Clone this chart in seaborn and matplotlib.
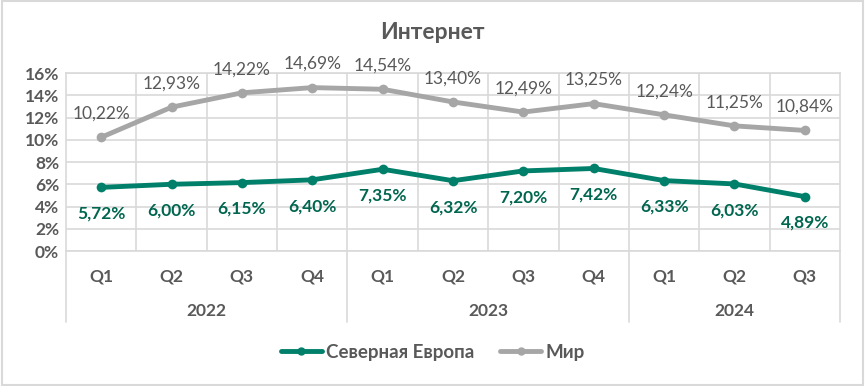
import pandas as pd
import matplotlib.pyplot as plt
import seaborn as sns
from matplotlib.lines import Line2D

quarters = ["Q1", "Q2", "Q3", "Q4", "Q1", "Q2", "Q3", "Q4", "Q1", "Q2", "Q3"]
years = ["2022", "2023", "2024"]
year_sizes = [4, 4, 3]
north_europe = [5.72, 6.00, 6.15, 6.40, 7.35, 6.32, 7.20, 7.42, 6.33, 6.03, 4.89]
world = [10.22, 12.93, 14.22, 14.69, 14.54, 13.40, 12.49, 13.25, 12.24, 11.25, 10.84]
series_names = ["Северная Европа", "Мир"]

green = "#00806A"
green_lbl = "#00664F"
grey = "#A6A6A6"
txt = "#595959"
grid_c = "#D9D9D9"

sns.set_style("white")
plt.rcParams["font.family"] = ["Lato", "DejaVu Sans"]

idx = list(range(len(quarters)))
df = pd.DataFrame({
    "pos": idx * 2,
    "value": north_europe + world,
    "series": [series_names[0]] * len(idx) + [series_names[1]] * len(idx),
})

fig = plt.figure(figsize=(8.65, 3.86), dpi=100)
ax = fig.add_axes([0.0763, 0.3497, 0.8948, 0.4611])

sns.lineplot(data=df, x="pos", y="value", hue="series",
             palette={series_names[0]: green, series_names[1]: grey},
             marker="o", markersize=7, markeredgewidth=0, linewidth=3.5,
             legend=False, ax=ax)

for i, v in enumerate(world):
    ax.annotate(f"{v:.2f}%".replace(".", ","), (i, v), xytext=(0, 17),
                textcoords="offset points", ha="center", va="center",
                fontsize=12.5, color=txt)
for i, v in enumerate(north_europe):
    ax.annotate(f"{v:.2f}%".replace(".", ","), (i, v), xytext=(0, -19),
                textcoords="offset points", ha="center", va="center",
                fontsize=12.5, color=green_lbl, fontweight="bold")

ax.set_xlim(-0.5, len(idx) - 0.5)
ax.set_ylim(0, 16)
ax.set_yticks(range(0, 17, 2))
ax.set_yticklabels([f"{t}%" for t in range(0, 17, 2)], fontsize=12.5,
                   fontweight="bold", color=txt)
ax.yaxis.grid(True, color=grid_c, linewidth=1.2)
ax.set_xticks([i + 0.5 for i in idx[:-1]], minor=True)
ax.xaxis.grid(True, which="minor", color=grid_c, linewidth=1.2)
ax.set_xticks([])
ax.tick_params(axis="y", length=0, pad=5)
ax.tick_params(axis="x", which="minor", length=4, color=grid_c, width=1.2)
ax.set_xticklabels([], minor=True)
for s in ax.spines.values():
    s.set_color(grid_c)
    s.set_linewidth(1.2)
ax.set_xlabel("")
ax.set_ylabel("")

# category labels
tr = ax.get_xaxis_transform()
for i, q in enumerate(quarters):
    ax.text(i, -0.145, q, transform=tr, ha="center", va="center",
            fontsize=12.5, fontweight="bold", color=txt)
start = 0
bounds = [-0.5]
for y, n in zip(years, year_sizes):
    ax.text(start + (n - 1) / 2, -0.335, y, transform=tr, ha="center",
            va="center", fontsize=12.5, fontweight="bold", color=txt)
    start += n
    bounds.append(start - 0.5)
for b in bounds:
    ax.plot([b, b], [0, -0.4], transform=tr, color=grid_c, linewidth=1.2,
            clip_on=False)

fig.text(0.5, 0.915, "Интернет", ha="center", va="center", fontsize=16.5,
         fontweight="bold", color=txt)

handles = [Line2D([], [], color=green, marker="o", markersize=5, linewidth=3.5),
           Line2D([], [], color=grey, marker="o", markersize=5, linewidth=3.5)]
fig.legend(handles, series_names, loc="center", bbox_to_anchor=(0.5, 0.088),
           ncol=2, frameon=False, handlelength=2.2, handletextpad=0.2,
           columnspacing=1.4, prop={"size": 13.5, "weight": "bold"},
           labelcolor=txt)

fig.patches.append(plt.Rectangle((0.002, 0.003), 0.996, 0.994,
                                 transform=fig.transFigure, fill=False,
                                 edgecolor=grid_c, linewidth=1.5))

fig.savefig("out.png", dpi=100)
